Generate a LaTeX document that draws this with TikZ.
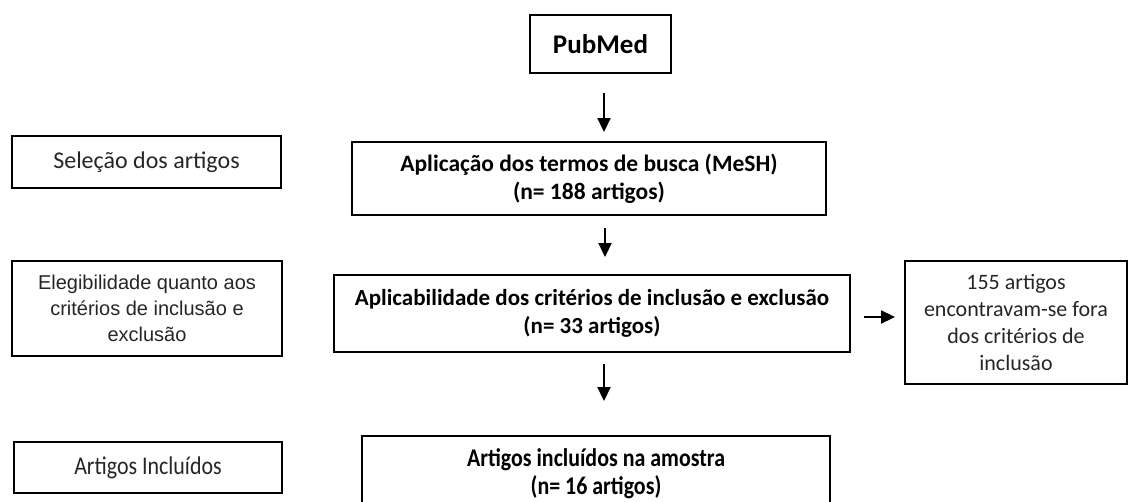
\documentclass[tikz,border=0pt]{standalone}
\usepackage{fontspec}
\setmainfont{Carlito}
\newfontfamily\arialf{Liberation Sans}
\newfontfamily\narrowf[FakeStretch=0.86]{Carlito}
\usetikzlibrary{arrows.meta}
\begin{document}
\begin{tikzpicture}[x=1bp,y=-1bp,
  box/.style={draw, line width=1.9bp, inner sep=0pt, align=center, text=black},
  arr/.style={-{Triangle[width=13bp,length=14bp]}, line width=1.9bp},
  boldtxt/.style={font=\bfseries\fontsize{23.5bp}{28bp}\selectfont},
  regtxt/.style={font=\fontsize{24bp}{29bp}\selectfont, text=black!85}]
\useasboundingbox (0,0) rectangle (1128,502);
\clip (0,0) rectangle (1128,502);
\fill[white] (0,0) rectangle (1128,502);

\node[box, minimum width=141bp, minimum height=58bp, font=\bfseries\fontsize{27bp}{32bp}\selectfont] (pub) at (600.5,44) {PubMed};
\node[box, boldtxt, minimum width=474bp, minimum height=73bp] (mesh) at (589,178.5) {Aplicação dos termos de busca (MeSH)\\(n= 188 artigos)};
\node[box, minimum width=516bp, minimum height=77bp, font=\bfseries\fontsize{23bp}{28bp}\selectfont] (appl) at (592,313.5) {Aplicabilidade dos critérios de inclusão e exclusão\\(n= 33 artigos)};
\node[box, minimum width=468bp, minimum height=76bp, font=\narrowf\bfseries\fontsize{25.5bp}{28bp}\selectfont] (incl) at (596,474) {Artigos incluídos na amostra\\(n= 16 artigos)};

\node[box, regtxt, minimum width=269bp, minimum height=52bp] (sel) at (146.5,162) {Seleção dos artigos};
\node[box, minimum width=270bp, minimum height=95bp, font=\arialf\fontsize{20bp}{26bp}\selectfont, text=black!85] (eleg) at (147,308.5) {Elegibilidade quanto aos\\critérios de inclusão e\\exclusão};
\node[box, minimum width=268bp, minimum height=51bp, font=\narrowf\fontsize{25.5bp}{29bp}\selectfont, text=black!85] (artl) at (148,467.5) {Artigos Incluídos};
\node[box, minimum width=222bp, minimum height=123bp, font=\fontsize{22bp}{27bp}\selectfont, text=black!85] (out) at (1016,322.5) {155 artigos\\encontravam-se fora\\dos critérios de\\inclusão};

\draw[arr, shorten <=19bp, shorten >=9bp] ([xshift=3.5bp]pub.south) -- ([xshift=3.5bp]pub.south |- mesh.north);
\draw[arr, shorten <=12bp, shorten >=17bp] ([xshift=16bp]mesh.south) -- ([xshift=16bp]mesh.south |- appl.north);
\draw[arr, shorten <=11bp, shorten >=34bp] ([xshift=12bp]appl.south) -- ([xshift=12bp]appl.south |- incl.north);
\draw[arr, shorten <=13bp, shorten >=9bp] ([yshift=-3.5bp]appl.east) -- ([yshift=-3.5bp]appl.east -| out.west);
\end{tikzpicture}
\end{document}
